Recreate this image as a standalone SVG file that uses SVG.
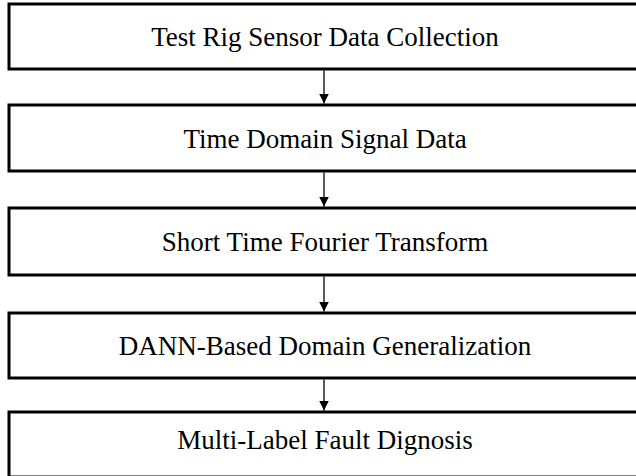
<svg xmlns="http://www.w3.org/2000/svg" width="636" height="476" viewBox="0 0 636 476">
<style>
.box{fill:#fff;stroke:#000;stroke-width:3}
.lbl{font-family:"Liberation Serif","Times New Roman",serif;font-size:27px;fill:#000;text-anchor:middle}
.conn{stroke:#000;stroke-width:1.3;fill:none}
</style>
<defs>
<marker id="arr" viewBox="0 0 10 10" refX="10" refY="5" markerWidth="10" markerHeight="10" markerUnits="userSpaceOnUse" orient="auto">
<path d="M0,0 L10,5 L0,10 z" fill="#000"/>
</marker>
</defs>
<rect width="636" height="476" fill="#fff"/>
<g id="n1"><rect class="box" x="9" y="4" width="640" height="65"/><text class="lbl" x="325" y="46">Test Rig Sensor Data Collection</text></g>
<g id="n2"><rect class="box" x="9" y="105" width="640" height="66"/><text class="lbl" x="325" y="148">Time Domain Signal Data</text></g>
<g id="n3"><rect class="box" x="9" y="208" width="640" height="67"/><text class="lbl" x="325" y="251">Short Time Fourier Transform</text></g>
<g id="n4"><rect class="box" x="9" y="313" width="640" height="65"/><text class="lbl" x="325" y="355">DANN-Based Domain Generalization</text></g>
<g id="n5"><rect class="box" x="9" y="412" width="640" height="65"/><text class="lbl" x="325" y="449">Multi-Label Fault Dignosis</text></g>
<g id="connectors">
<line class="conn" x1="324" y1="70.5" x2="324" y2="103.5" marker-end="url(#arr)"/>
<line class="conn" x1="324" y1="172.5" x2="324" y2="206.5" marker-end="url(#arr)"/>
<line class="conn" x1="324" y1="276.5" x2="324" y2="311.5" marker-end="url(#arr)"/>
<line class="conn" x1="324" y1="379.5" x2="324" y2="410.5" marker-end="url(#arr)"/>
</g>
</svg>
